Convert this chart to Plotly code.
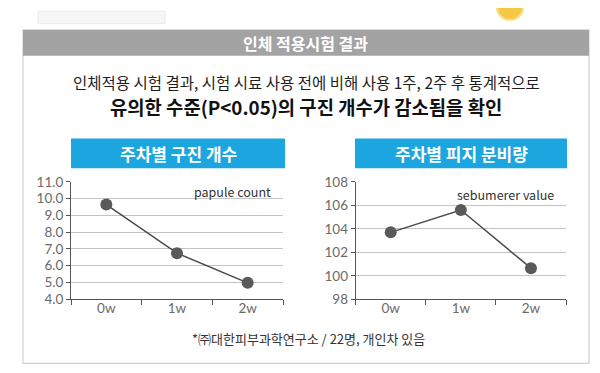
import plotly.graph_objects as go

# ---- data ----
weeks = ["0w", "1w", "2w"]
papule_count = [9.65, 6.75, 4.98]
sebum_value = [103.7, 105.6, 100.65]
papule_ticks = [4, 5, 6, 7, 8, 9, 10, 11]
sebum_ticks = [98, 100, 102, 104, 106, 108]

header_text = "인체 적용시험 결과"
sub_line1 = "인체적용 시험 결과, 시험 시료 사용 전에 비해 사용 1주, 2주 후 통계적으로"
sub_line2 = "유의한 수준(P<0.05)의 구진 개수가 감소됨을 확인"
left_title = "주차별 구진 개수"
right_title = "주차별 피지 분비량"
left_label = "papule count"
right_label = "sebumerer value"
footnote = "*㈜대한피부과학연구소 / 22명, 개인차 있음"

W, H = 600, 373
KR = "Noto Sans CJK KR"


def X(px):
    return px / W


def Y(py):
    return 1 - py / H


fig = go.Figure()

line_color = "#4a4a4a"
marker_color = "#5a5a5a"

fig.add_trace(go.Scatter(
    x=weeks, y=papule_count, mode="lines+markers",
    line=dict(color=line_color, width=1.5),
    marker=dict(color=marker_color, size=12),
    xaxis="x", yaxis="y", showlegend=False, hoverinfo="skip"))
fig.add_trace(go.Scatter(
    x=weeks, y=sebum_value, mode="lines+markers",
    line=dict(color=line_color, width=1.5),
    marker=dict(color=marker_color, size=12),
    xaxis="x2", yaxis="y2", showlegend=False, hoverinfo="skip"))

tickfont = dict(family="Lato", size=13.5, color="#6a6a6a")

common_x = dict(type="category", range=[-0.5, 2.5], tickson="boundaries",
                showline=True, linecolor="#555", linewidth=1,
                ticks="outside", ticklen=5, tickcolor="#555",
                ticklabelstandoff=-4,
                showgrid=False, tickfont=tickfont, fixedrange=True)
common_y = dict(showline=True, linecolor="#555", linewidth=1,
                ticks="outside", ticklen=4, tickcolor="#555",
                ticklabelstandoff=0,
                showgrid=True, gridcolor="#c4c4c4", gridwidth=1,
                zeroline=False, tickfont=tickfont, fixedrange=True)

plot_top, plot_bot = 173.3, 296.0
fig.update_layout(
    width=W, height=H,
    margin=dict(l=0, r=0, t=0, b=0),
    paper_bgcolor="white", plot_bgcolor="rgba(0,0,0,0)",
    xaxis=dict(domain=[X(63), X(275)], anchor="y", **common_x),
    yaxis=dict(domain=[Y(plot_bot), Y(plot_top)], anchor="x", range=[4, 11],
               tickvals=papule_ticks, tickformat=".1f", **common_y),
    xaxis2=dict(domain=[X(347.7), X(558)], anchor="y2", **common_x),
    yaxis2=dict(domain=[Y(plot_bot), Y(plot_top)], anchor="x2", range=[98, 108],
                tickvals=sebum_ticks, tickformat="d", **common_y),
)

shapes = []
# faded top-left piece
shapes.append(dict(type="rect", xref="paper", yref="paper",
                   x0=X(30), x1=X(157), y0=Y(8), y1=Y(-5),
                   fillcolor="#f6f6f6", line=dict(color="#ececec", width=1), layer="below"))
# yellow arc top right
shapes.append(dict(type="circle", xref="paper", yref="paper",
                   x0=X(489), x1=X(515), y0=Y(4), y1=Y(-22),
                   fillcolor="#f4c842", line=dict(color="#f7dc8a", width=2), layer="below"))
# card
shapes.append(dict(type="rect", xref="paper", yref="paper",
                   x0=X(15), x1=X(581), y0=Y(363), y1=Y(14.5),
                   fillcolor="white", line=dict(color="#cfcfcf", width=1.2), layer="below"))
# header bar
shapes.append(dict(type="rect", xref="paper", yref="paper",
                   x0=X(15), x1=X(581), y0=Y(41.5), y1=Y(14.5),
                   fillcolor="#a3a3a3", line=dict(width=0), layer="below"))
# blue title boxes
blue = "#1ba6e0"
shapes.append(dict(type="rect", xref="paper", yref="paper",
                   x0=X(63), x1=X(277), y0=Y(159), y1=Y(128),
                   fillcolor=blue, line=dict(width=0), layer="below"))
shapes.append(dict(type="rect", xref="paper", yref="paper",
                   x0=X(347), x1=X(559), y0=Y(159), y1=Y(128),
                   fillcolor=blue, line=dict(width=0), layer="below"))
fig.update_layout(shapes=shapes)

ann = []


def txt(text, x, y, size, color, bold=False, xanchor="center", family=KR):
    t = f"<b>{text}</b>" if bold else text
    ann.append(dict(text=t, x=X(x), y=Y(y), xref="paper", yref="paper",
                    xanchor=xanchor, yanchor="middle", showarrow=False,
                    font=dict(family=family, size=size, color=color)))


txt(header_text, 297, 28.5, 16, "white", bold=True)
txt(sub_line1, 298, 69, 15.5, "#1e1e1e")
txt(sub_line2, 298, 95, 18.8, "#111111", bold=True)
txt(left_title, 170, 143.5, 17, "white", bold=True)
txt(right_title, 453, 143.5, 17, "white", bold=True)
txt(left_label, 265, 183.5, 12.5, "#333333", xanchor="right")
txt(right_label, 548, 186.5, 12.5, "#333333", xanchor="right")
txt(footnote, 300, 337, 13, "#333333")
fig.update_layout(annotations=ann)

fig.write_html("out.html")
